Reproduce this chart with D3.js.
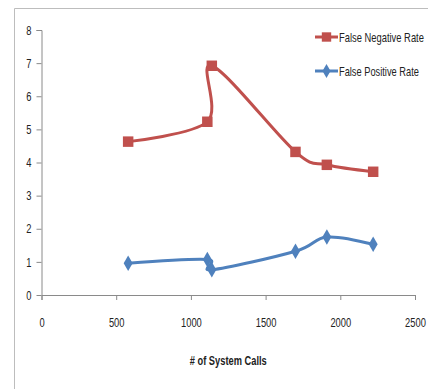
<!DOCTYPE html>
<html>
<head>
<meta charset="utf-8">
<script src="https://cdn.jsdelivr.net/npm/d3@7"></script>
<style>
  body { margin: 0; background: #fff; }
  text { font-family: "Liberation Sans", Arial, sans-serif; fill: #222; }
</style>
</head>
<body>
<div id="chart"></div>
<script>
// data
var calls = [580, 1110, 1140, 1700, 1910, 2220];
var falseNegative = [4.63, 5.23, 6.92, 4.32, 3.93, 3.72];
var falsePositive = [0.96, 1.07, 0.76, 1.32, 1.75, 1.53];
var xTicks = [0, 500, 1000, 1500, 2000, 2500];
var yTicks = [0, 1, 2, 3, 4, 5, 6, 7, 8];

var W = 428, H = 389;
var margin = {top: 30, right: 13, bottom: 94, left: 41.5};
var width = W - margin.left - margin.right,
    height = H - margin.top - margin.bottom;

// narrow text, like the Calibri of the original: squash it horizontally
function squeeze(sel, target) {
  sel.each(function () {
    var t = d3.select(this);
    var len = this.getComputedTextLength();
    var goal = typeof target === "function" ? target(t.text()) : target;
    var sx = goal / len;
    var x0 = +t.attr("x") || 0;
    t.attr("x", x0 / sx).attr("transform", "scale(" + sx + ",1)");
  });
}

var svg = d3.select("#chart")
  .append("svg")
  .attr("width", W)
  .attr("height", H);

// outer frame (cut off at right and bottom)
svg.append("path")
  .attr("d", "M14.5," + H + "V8.5H" + W)
  .attr("fill", "none")
  .attr("stroke", "#bdbdbd")
  .attr("stroke-width", 1);

var g = svg.append("g")
  .attr("transform", "translate(" + margin.left + "," + margin.top + ")");

var x = d3.scaleLinear().domain([0, 2500]).range([0, width]);
var y = d3.scaleLinear().domain([0, 8]).range([height, 0]);

var xAxis = g.append("g")
  .attr("transform", "translate(0," + height + ")")
  .call(d3.axisBottom(x).tickValues(xTicks).tickSize(5).tickPadding(18).tickFormat(d3.format("d")));

var yAxis = g.append("g")
  .call(d3.axisLeft(y).tickValues(yTicks).tickSize(5).tickPadding(5));

[xAxis, yAxis].forEach(function (a) {
  a.select(".domain").attr("stroke", "#8a8a8a");
  a.selectAll(".tick line").attr("stroke", "#8a8a8a");
  a.selectAll(".tick text")
    .style("font-family", '"Liberation Sans", Arial, sans-serif')
    .style("font-size", "13px")
    .attr("fill", "#222")
    .call(squeeze, function (s) { return s.length * 5.2; });
});
yAxis.selectAll(".domain").attr("d", "M-5," + (y(8) + 0.5) + "H0.5V" + (height + 0.5));

g.append("text")
  .attr("x", width / 2 + 0)
  .attr("y", height + 70)
  .attr("text-anchor", "middle")
  .style("font-size", "13px")
  .style("font-weight", "bold")
  .text("# of System Calls")
  .call(squeeze, 77);

var line = d3.line()
  .x(function (d, i) { return x(calls[i]); })
  .y(function (d) { return y(d); })
  .curve(d3.curveCardinal.tension(0));

var series = [
  {name: "False Negative Rate", values: falseNegative, color: "#c0504d", marker: d3.symbolSquare, size: 110, len: 85},
  {name: "False Positive Rate", values: falsePositive, color: "#4f81bd", marker: d3.symbolDiamond, size: 70, len: 80}
];

series.forEach(function (s) {
  g.append("path")
    .attr("d", line(s.values))
    .attr("fill", "none")
    .attr("stroke", s.color)
    .attr("stroke-width", 3);

  g.selectAll(null)
    .data(s.values)
    .enter()
    .append("path")
    .attr("transform", function (d, i) { return "translate(" + x(calls[i]) + "," + y(d) + ")"; })
    .attr("d", d3.symbol().type(s.marker).size(s.size))
    .attr("fill", s.color);
});

// legend
var legend = svg.append("g").attr("transform", "translate(315,37)");
series.forEach(function (s, i) {
  var row = legend.append("g").attr("transform", "translate(0," + (i * 34) + ")");
  row.append("line")
    .attr("x1", 0).attr("x2", 23)
    .attr("stroke", s.color)
    .attr("stroke-width", 3);
  row.append("path")
    .attr("transform", "translate(11.5,0)")
    .attr("d", d3.symbol().type(s.marker).size(s.size * 0.8))
    .attr("fill", s.color);
  row.append("text")
    .attr("x", 24)
    .attr("dy", "0.35em")
    .style("font-size", "13px")
    .text(s.name)
    .call(squeeze, s.len);
});
</script>
</body>
</html>
